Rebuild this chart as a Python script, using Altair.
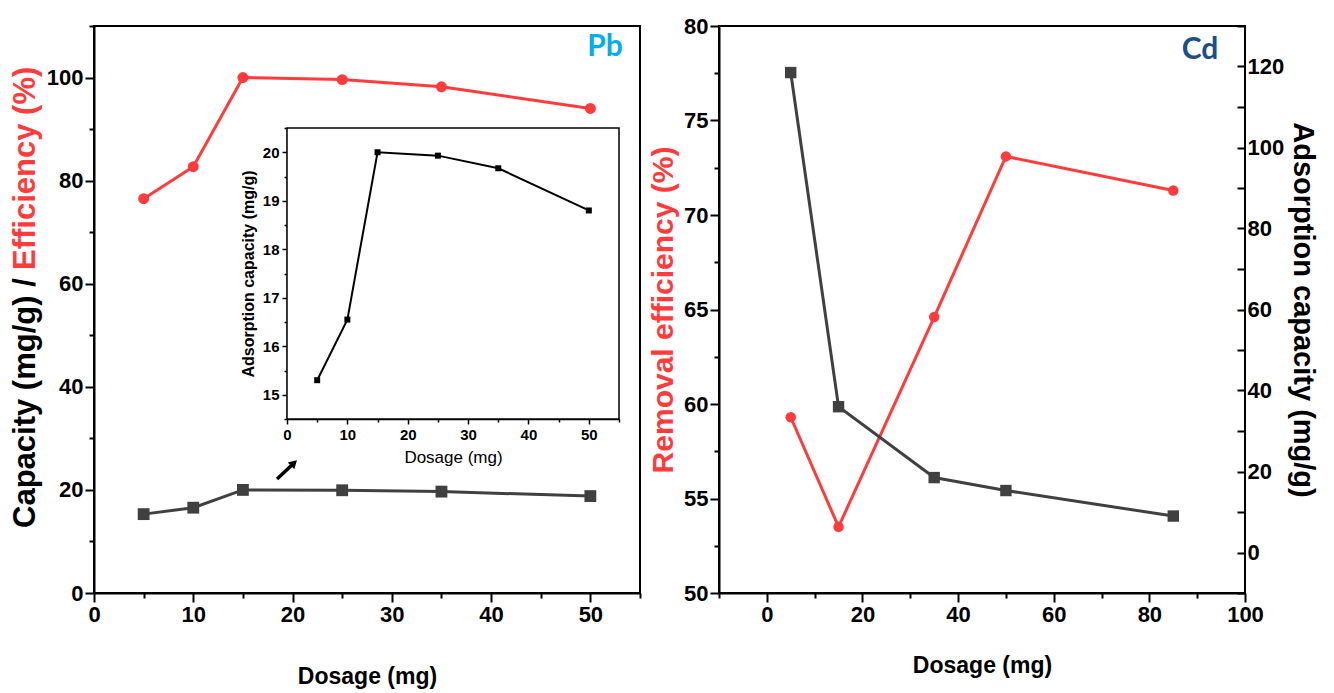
import altair as alt
import pandas as pd

# ---------------- data ----------------
pb_dosage = [5, 10, 15, 25, 35, 50]
pb_efficiency = [76.5, 82.7, 100.0, 99.6, 98.2, 94.0]
pb_capacity = [15.3, 16.55, 20.0, 19.93, 19.67, 18.8]

cd_dosage = [5, 15, 35, 50, 85]
cd_efficiency = [59.3, 53.5, 64.6, 73.1, 71.3]
cd_capacity = [118.5, 36.0, 18.5, 15.3, 9.0]

inset_box = {"x0": [0], "x1": [55], "y0": [14.5], "y1": [20.5]}

# ---------------- styles ----------------
RED = "#ff3b3b"
GRAY = "#404040"
SANS = "Liberation Sans, Arial, sans-serif"

pb = pd.DataFrame({"dosage": pb_dosage, "efficiency": pb_efficiency, "capacity": pb_capacity})
cd = pd.DataFrame({"dosage": cd_dosage, "efficiency": cd_efficiency, "capacity": cd_capacity})
one = pd.DataFrame({"a": [0]})

LW, LH = 546, 567
RW, RH = 526, 567


def tick_cond(test, small, big):
    return {"condition": {"test": test, "value": small}, "value": big}


def frange(a, b, s):
    out, v = [], a
    while v <= b + 1e-9:
        out.append(round(v, 4))
        v += s
    return out


def lbl(step):
    return f"datum.value % {step} == 0 ? format(datum.value, 'd') : ''"


# ---------------- left panel (Pb) ----------------
x_main = alt.X(
    "dosage:Q",
    scale=alt.Scale(domain=[0, 55], nice=False),
    axis=alt.Axis(
        values=frange(0, 55, 5),
        labelExpr=lbl(10),
        tickSize=tick_cond("datum.value % 10 != 0", 5, 9),
        labelPadding=2,
        title="Dosage (mg)",
        titlePadding=40,
    ),
)
y_main_axis = alt.Axis(
    values=frange(0, 110, 10),
    labelExpr=lbl(20),
    tickSize=tick_cond("datum.value % 20 != 0", 5, 9),
    labelPadding=2,
    title=None,
)
y_main_scale = alt.Scale(domain=[0, 110], nice=False)

base_pb = alt.Chart(pb).encode(x=x_main)
pb_eff_line = base_pb.mark_line(color=RED, strokeWidth=3).encode(
    y=alt.Y("efficiency:Q", scale=y_main_scale, axis=y_main_axis))
pb_eff_pts = base_pb.mark_point(shape="circle", filled=True, size=120, color=RED, opacity=1).encode(
    y=alt.Y("efficiency:Q", scale=y_main_scale, axis=y_main_axis))
pb_cap_line = base_pb.mark_line(color=GRAY, strokeWidth=3).encode(
    y=alt.Y("capacity:Q", scale=y_main_scale, axis=y_main_axis))
pb_cap_pts = base_pb.mark_point(shape="square", filled=True, size=140, color=GRAY, opacity=1).encode(
    y=alt.Y("capacity:Q", scale=y_main_scale, axis=y_main_axis))

title_black = alt.Chart(one).mark_text(
    text="Capacity (mg/g) / ", angle=270, align="left", baseline="middle",
    font=SANS, fontSize=31, fontWeight="bold", color="black",
).encode(x=alt.value(-68), y=alt.value(502))
title_red = alt.Chart(one).mark_text(
    text="Efficiency (%)", angle=270, align="left", baseline="middle",
    font=SANS, fontSize=31, fontWeight="bold", color=RED,
).encode(x=alt.value(-68), y=alt.value(244))

pb_label = alt.Chart(one).mark_text(
    text="Pb", font="Lato, Open Sans, sans-serif", fontSize=30, fontWeight="bold",
    color="#00aeef", align="center", baseline="middle",
).encode(x=alt.value(511), y=alt.value(21))

arrow_shaft = alt.Chart(one).mark_rule(color="black", strokeWidth=3.5).encode(
    x=alt.value(183), y=alt.value(453), x2=alt.value(198), y2=alt.value(439))
arrow_head = alt.Chart(one).mark_point(
    shape="triangle-up", filled=True, size=90, color="black", opacity=1, angle=46,
).encode(x=alt.value(200), y=alt.value(437))

main_layer = alt.layer(
    pb_eff_line, pb_eff_pts, pb_cap_line, pb_cap_pts,
    title_black, title_red, pb_label, arrow_shaft, arrow_head,
)

# inset
in_x_scale = alt.Scale(domain=[0, 55], range=[193, 525], nice=False)
in_y_scale = alt.Scale(domain=[14.5, 20.5], range=[393, 102], nice=False, zero=False)
in_x_axis = alt.Axis(
    orient="bottom", offset=-174,
    values=frange(0, 55, 5),
    labelExpr=lbl(10),
    tickSize=tick_cond("datum.value % 10 != 0", 3, 5),
    domainWidth=1.5, tickWidth=1.5,
    labelFontSize=15, labelPadding=3,
    title="Dosage (mg)", titleFont=SANS, titleFontWeight="normal", titleFontSize=17,
    titlePadding=7,
)
in_y_axis = alt.Axis(
    orient="left", offset=-193,
    values=frange(14.5, 20.5, 0.5),
    labelExpr=lbl(1),
    tickSize=tick_cond("datum.value % 1 != 0", 3, 5),
    domainWidth=1.5, tickWidth=1.5,
    labelFontSize=15, labelPadding=3,
    title="Adsorption capacity (mg/g)", titleFont=SANS, titleFontWeight="bold", titleFontSize=16,
    titlePadding=6,
)
inset_rect = alt.Chart(pd.DataFrame(inset_box)).mark_rect(
    fill="white", stroke="black", strokeWidth=1.5,
).encode(
    x=alt.X("x0:Q", scale=in_x_scale, axis=in_x_axis), x2="x1:Q",
    y=alt.Y("y0:Q", scale=in_y_scale, axis=in_y_axis), y2="y1:Q",
)
inset_line = alt.Chart(pb).mark_line(color="black", strokeWidth=2).encode(
    x=alt.X("dosage:Q", scale=in_x_scale, axis=in_x_axis),
    y=alt.Y("capacity:Q", scale=in_y_scale, axis=in_y_axis),
)
inset_pts = alt.Chart(pb).mark_point(shape="square", filled=True, size=36, color="black", opacity=1).encode(
    x=alt.X("dosage:Q", scale=in_x_scale, axis=in_x_axis),
    y=alt.Y("capacity:Q", scale=in_y_scale, axis=in_y_axis),
)
inset_layer = alt.layer(inset_rect, inset_line, inset_pts)

left = alt.layer(main_layer, inset_layer).resolve_scale(
    x="independent", y="independent").properties(width=LW, height=LH)

# ---------------- right panel (Cd) ----------------
x_r = alt.X(
    "dosage:Q",
    scale=alt.Scale(domain=[-10, 100], nice=False),
    axis=alt.Axis(
        values=frange(-10, 100, 10),
        labelExpr=lbl(20),
        tickSize=tick_cond("datum.value % 20 != 0", 5, 9),
        labelPadding=2,
        title="Dosage (mg)",
        titlePadding=29,
    ),
)
y_l_r = alt.Y(
    "efficiency:Q",
    scale=alt.Scale(domain=[50, 80], nice=False, zero=False),
    axis=alt.Axis(
        orient="left",
        values=frange(50, 80, 2.5),
        labelExpr=lbl(5),
        tickSize=tick_cond("datum.value % 5 != 0", 5, 9),
        labelPadding=2,
        title="Removal efficiency (%)", titleColor=RED, titleFont=SANS,
        titleFontSize=30, titlePadding=5,
    ),
)
y_r_r = alt.Y(
    "capacity:Q",
    scale=alt.Scale(domain=[-10, 130], nice=False, zero=False),
    axis=alt.Axis(
        orient="right", offset=-8, domain=False,
        values=frange(-10, 130, 10),
        labelExpr=lbl(20),
        tickSize=8,
        labelPadding=2,
        title="Adsorption capacity (mg/g)", titleColor="black", titleFont=SANS,
        titleFontSize=29, titlePadding=4,
    ),
)

base_cd = alt.Chart(cd).encode(x=x_r)
cd_eff = alt.layer(
    base_cd.mark_line(color=RED, strokeWidth=3).encode(y=y_l_r),
    base_cd.mark_point(shape="circle", filled=True, size=110, color=RED, opacity=1).encode(y=y_l_r),
    alt.Chart(one).mark_text(
        text="Cd", font="Lato, Open Sans, sans-serif", fontSize=30, fontWeight="bold",
        color="#1b4f8a", align="center", baseline="middle",
    ).encode(x=alt.value(481), y=alt.value(24)),
)
cd_cap = alt.layer(
    base_cd.mark_line(color=GRAY, strokeWidth=3).encode(y=y_r_r),
    base_cd.mark_point(shape="square", filled=True, size=130, color=GRAY, opacity=1).encode(y=y_r_r),
)
right = alt.layer(cd_eff, cd_cap).resolve_scale(y="independent").properties(width=RW, height=RH)

chart = alt.hconcat(left, right, spacing=79, bounds="flush").properties(
    padding={"left": 0, "top": 6, "right": 6, "bottom": 0}
).configure_view(
    stroke="black", strokeWidth=2,
).configure_axis(
    grid=False, domainColor="black", domainWidth=2, tickColor="black", tickWidth=2,
    labelFont=SANS, labelFontSize=22, labelFontWeight="bold", labelColor="black",
    labelOverlap=False, labelFlush=False,
    titleFont=SANS, titleFontSize=23, titleFontWeight="bold", titleColor="black",
)

chart.save("out.html", embed_options={"renderer": "svg", "actions": False})
